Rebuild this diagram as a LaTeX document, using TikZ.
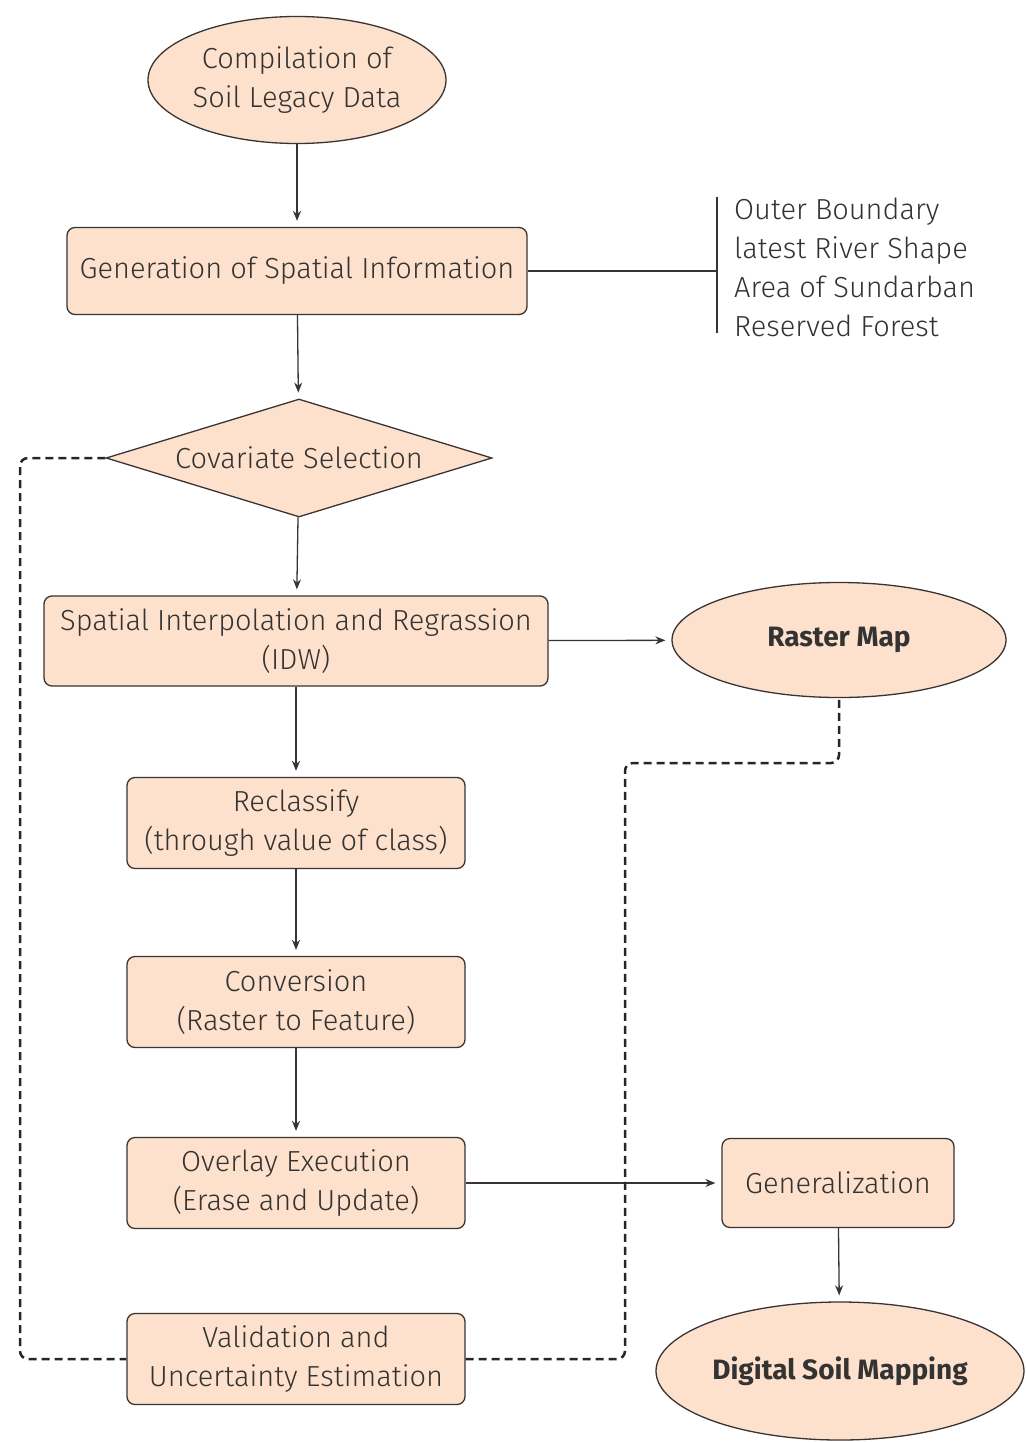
\documentclass[tikz,border=0pt]{standalone}
\usepackage{fontspec}
\setmainfont{Fira Sans}[UprightFont=* Light, BoldFont=* Bold]
\usetikzlibrary{shapes.geometric,arrows.meta}
\definecolor{peach}{HTML}{FDE1CC}
\definecolor{edge}{HTML}{3A3333}
\definecolor{txt}{HTML}{333333}
\begin{document}
\begin{tikzpicture}[x=1pt,y=-1pt,
  every node/.style={font=\fontsize{29}{39}\selectfont, text=txt},
  procbox/.style={draw=edge, line width=1.3pt, fill=peach, rounded corners=8pt, align=center, inner sep=0pt},
  oval/.style={ellipse, draw=edge, line width=1.3pt, fill=peach, align=center, inner sep=0pt},
  boldlbl/.style={font=\fontsize{28}{36}\selectfont\bfseries},
  link/.style={draw=edge, line width=1.3pt, -{Stealth[length=10pt,width=8pt]}, shorten >=6pt},
  plain/.style={draw=edge, line width=1.3pt},
  loop/.style={draw=black!85, line width=2.5pt, dash pattern=on 8pt off 5pt, rounded corners=8pt}
]
\useasboundingbox (0,0) rectangle (1025,1442);

\node[oval, minimum width=298pt, minimum height=127pt] (comp) at (297,80) {Compilation of\\Soil Legacy Data};
\node[procbox, minimum width=460pt, minimum height=87pt] (gen) at (297,271) {Generation of Spatial Information};
\node[diamond, draw=edge, line width=1.3pt, fill=peach, inner sep=0pt, shape aspect=3.27, minimum width=386pt, minimum height=118pt] (cov) at (299,458) {Covariate Selection};
\node[procbox, minimum width=504pt, minimum height=90pt] (sip) at (296,641) {Spatial Interpolation and Regrassion\\(IDW)};
\node[oval, boldlbl, minimum width=334pt, minimum height=115pt] (ras) at (839,640) {Raster Map};
\node[procbox, minimum width=338pt, minimum height=91pt] (rec) at (296,823) {Reclassify\\(through value of class)};
\node[procbox, minimum width=338pt, minimum height=91pt] (con) at (296,1002) {Conversion\\(Raster to Feature)};
\node[procbox, minimum width=338pt, minimum height=91pt] (ovl) at (296,1183) {Overlay Execution\\(Erase and Update)};
\node[procbox, minimum width=338pt, minimum height=91pt] (val) at (296,1359) {Validation and\\Uncertainty Estimation};
\node[procbox, minimum width=232pt, minimum height=89pt] (gnl) at (838,1183) {Generalization};
\node[oval, boldlbl, minimum width=368pt, minimum height=138pt] (dsm) at (840,1371) {Digital Soil Mapping};

\coordinate (bt) at (717,197);
\coordinate (bb) at (717,333);
\draw[plain] (bt) -- (bb);
\draw[plain] (gen.east) -- (gen.east -| bt);
\node[anchor=west, align=left, inner sep=0pt] (lst) at (734,267) {Outer Boundary\\latest River Shape\\Area of Sundarban\\Reserved Forest};

\draw[link] (comp) -- (gen);
\draw[link] (gen) -- (cov);
\draw[link] (cov) -- (sip);
\draw[link] (sip) -- (ras);
\draw[link] (sip) -- (rec);
\draw[link] (rec) -- (con);
\draw[link] (con) -- (ovl);
\draw[link] (ovl.east |- gnl.west) -- (gnl.west);
\draw[link] (gnl) -- (dsm);

\coordinate (l1) at (20,458);
\coordinate (r1) at (625,763);
\draw[loop] (cov.west) -- (l1) -- (l1 |- val.west) -- (val.west);
\draw[loop] (val.east) -- (r1 |- val.east) -- (r1) -- (r1 -| ras.south) -- (ras.south);
\end{tikzpicture}
\end{document}
